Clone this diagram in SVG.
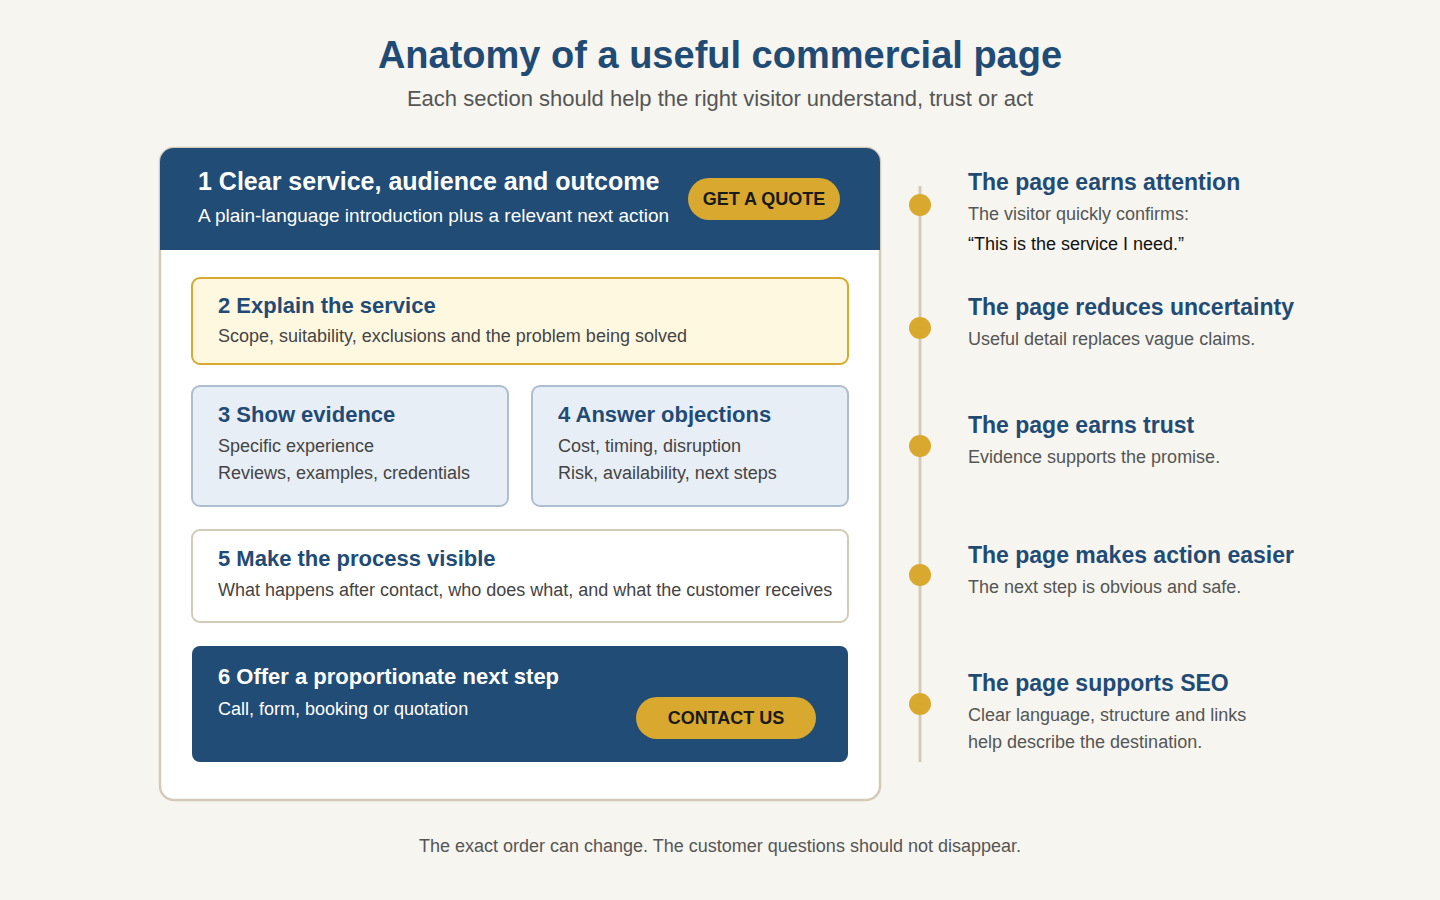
<svg xmlns="http://www.w3.org/2000/svg" width="1440" height="900" viewBox="0 0 1440 900">
<style>
text{font-family:"Liberation Sans",Arial,sans-serif}
.h{font-weight:bold;font-size:22px;fill:#1f4b75}
.hw{font-weight:bold;font-size:22px;fill:#fff}
.b{font-size:18px;fill:#444}
.bw{font-size:18px;fill:#fff}
.rh{font-weight:bold;font-size:23px;fill:#1f4b75}
.rb{font-size:18px;fill:#555}
.btn{font-weight:bold;font-size:18px;fill:#1a1a1a;text-anchor:middle}
.dot{fill:#d9a82e}
</style>
<rect width="1440" height="900" fill="#f6f5f0"/>
<text x="720" y="68" text-anchor="middle" style="font-weight:bold;font-size:38px;fill:#1f4b75">Anatomy of a useful commercial page</text>
<text x="720" y="106" text-anchor="middle" style="font-size:22px;fill:#555">Each section should help the right visitor understand, trust or act</text>
<g id="page">
<rect x="160" y="148" width="720" height="652" rx="14" fill="#fff" stroke="#d4cab8" stroke-width="2.5"/>
<path d="M160 162 a14 14 0 0 1 14 -14 H866 a14 14 0 0 1 14 14 V250 H160 Z" fill="#214c76"/>
</g>
<g id="s1">
<text x="198" y="190" class="hw" style="font-size:25px">1 Clear service, audience and outcome</text>
<text x="198" y="222" class="bw" style="font-size:19px">A plain-language introduction plus a relevant next action</text>
<rect x="688" y="178" width="152" height="42" rx="21" fill="#d9a82e"/>
<text x="764" y="205" class="btn">GET A QUOTE</text>
</g>
<g id="s2">
<rect x="192" y="278" width="656" height="86" rx="8" fill="#fff8e1" stroke="#d9a82e" stroke-width="2"/>
<text x="218" y="313" class="h">2 Explain the service</text>
<text x="218" y="342" class="b">Scope, suitability, exclusions and the problem being solved</text>
</g>
<g id="s3">
<rect x="192" y="386" width="316" height="120" rx="8" fill="#e8eef6" stroke="#aebdd0" stroke-width="2"/>
<text x="218" y="422" class="h">3 Show evidence</text>
<text x="218" y="452" class="b">Specific experience</text>
<text x="218" y="479" class="b">Reviews, examples, credentials</text>
</g>
<g id="s4">
<rect x="532" y="386" width="316" height="120" rx="8" fill="#e8eef6" stroke="#aebdd0" stroke-width="2"/>
<text x="558" y="422" class="h">4 Answer objections</text>
<text x="558" y="452" class="b">Cost, timing, disruption</text>
<text x="558" y="479" class="b">Risk, availability, next steps</text>
</g>
<g id="s5">
<rect x="192" y="530" width="656" height="92" rx="8" fill="#fff" stroke="#d4cab8" stroke-width="2"/>
<text x="218" y="566" class="h">5 Make the process visible</text>
<text x="218" y="596" class="b">What happens after contact, who does what, and what the customer receives</text>
</g>
<g id="s6">
<rect x="192" y="646" width="656" height="116" rx="8" fill="#214c76"/>
<text x="218" y="684" class="hw">6 Offer a proportionate next step</text>
<text x="218" y="715" class="bw">Call, form, booking or quotation</text>
<rect x="636" y="697" width="180" height="42" rx="21" fill="#d9a82e"/>
<text x="726" y="724" class="btn">CONTACT US</text>
</g>
<g id="connectors">
<line x1="920" y1="186" x2="920" y2="762" stroke="#d4cab8" stroke-width="3"/>
</g>
<g id="r1"><circle cx="920" cy="205" r="11" class="dot"/>
<text x="968" y="190" class="rh">The page earns attention</text>
<text x="968" y="220" class="rb">The visitor quickly confirms:</text>
<text x="968" y="250" class="rb" style="fill:#111">“This is the service I need.”</text></g>
<g id="r2"><circle cx="920" cy="328" r="11" class="dot"/>
<text x="968" y="315" class="rh">The page reduces uncertainty</text>
<text x="968" y="345" class="rb">Useful detail replaces vague claims.</text></g>
<g id="r3"><circle cx="920" cy="446" r="11" class="dot"/>
<text x="968" y="433" class="rh">The page earns trust</text>
<text x="968" y="463" class="rb">Evidence supports the promise.</text></g>
<g id="r4"><circle cx="920" cy="575" r="11" class="dot"/>
<text x="968" y="563" class="rh">The page makes action easier</text>
<text x="968" y="593" class="rb">The next step is obvious and safe.</text></g>
<g id="r5"><circle cx="920" cy="704" r="11" class="dot"/>
<text x="968" y="691" class="rh">The page supports SEO</text>
<text x="968" y="721" class="rb">Clear language, structure and links</text>
<text x="968" y="748" class="rb">help describe the destination.</text></g>
<text x="720" y="852" text-anchor="middle" style="font-size:18px;fill:#555">The exact order can change. The customer questions should not disappear.</text>
</svg>
